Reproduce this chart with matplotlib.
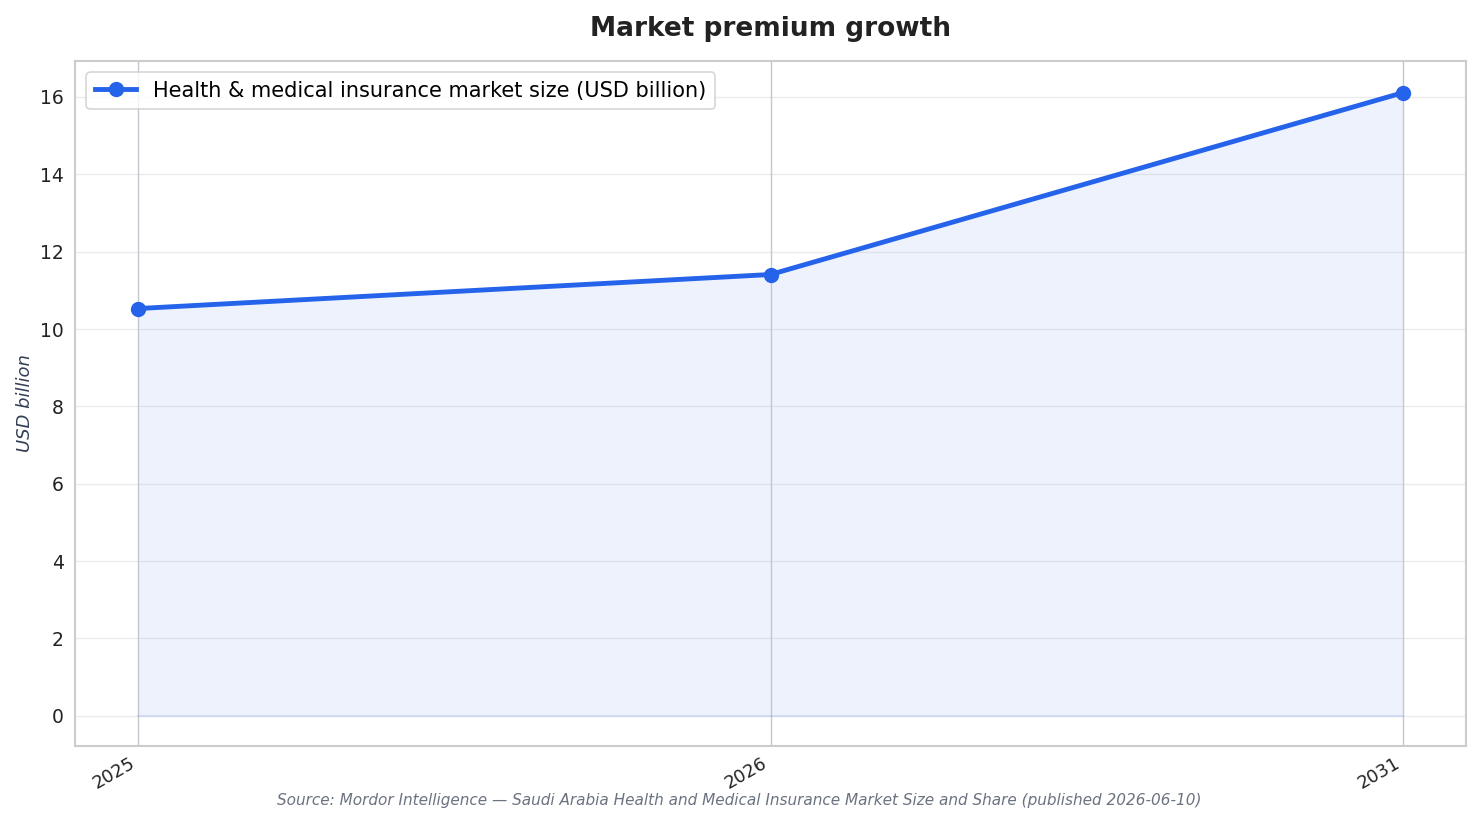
import matplotlib
matplotlib.use("Agg")
import matplotlib.pyplot as plt

years = ["2025", "2026", "2031"]
market_size = [10.53, 11.41, 16.11]
series_label = "Health & medical insurance market size (USD billion)"
title = "Market premium growth"
ylabel = "USD billion"
source = "Source: Mordor Intelligence — Saudi Arabia Health and Medical Insurance Market Size and Share (published 2026-06-10)"

plt.rcParams['font.family'] = ['DejaVu Sans']
fig = plt.figure(figsize=(14.81, 8.24), dpi=100)
ax = fig.add_axes([75/1481, 1-746/824, (1466-75)/1481, (746-61)/824])

x = list(range(len(years)))
color = "#2563eb"
ax.fill_between(x, market_size, 0, color=color, alpha=0.08, linewidth=0)
ax.plot(x, [0]*len(x), color=color, alpha=0.12, linewidth=1.5)
for xi in x:
    ax.axvline(xi, color="#c3c7d0", linewidth=1, zorder=1)
ax.plot(x, market_size, color=color, linewidth=3.5, marker="o", markersize=10, label=series_label, zorder=3)

ax.set_xlim(-0.1, 2.1)
ax.set_ylim(-0.78, 16.93)
ax.set_xticks(x)
ax.set_xticklabels(years, rotation=30, ha="right", fontsize=13, color="#222222")
ax.set_yticks(range(0, 17, 2))
ax.tick_params(axis="y", labelsize=13.5, length=0, pad=8, labelcolor="#222222")
ax.tick_params(axis="x", length=0, pad=6)
ax.grid(axis="y", color="#ebebeb", linewidth=1)
ax.set_axisbelow(True)
for s in ax.spines.values():
    s.set_color("#cccccc")
    s.set_linewidth(1.5)
ax.set_ylabel(ylabel, fontsize=13, style="italic", color="#333f55", labelpad=4)
ax.set_title(title, fontsize=19, fontweight="bold", color="#222222", pad=18)
leg = ax.legend(loc="upper left", fontsize=15, frameon=True, borderaxespad=0.55, handlelength=2.0)
leg.get_frame().set_edgecolor("#cccccc")
leg.get_frame().set_linewidth(1.2)
fig.text(739/1481, 1-800/824, source, ha="center", va="center", fontsize=11, style="italic", color="#6b7280")

fig.savefig("out.png", dpi=100)
